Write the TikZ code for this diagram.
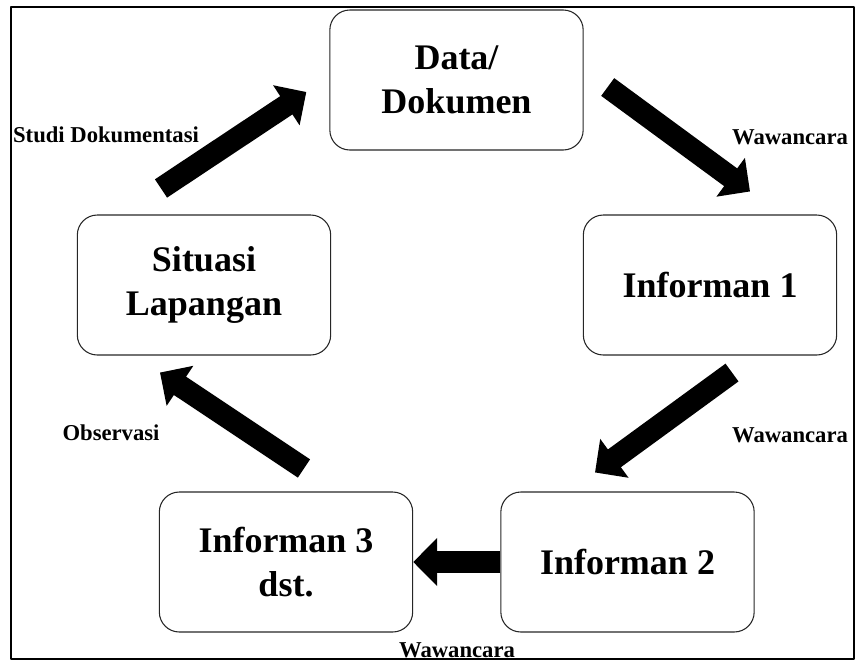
\documentclass[tikz,border=0pt]{standalone}
\usepackage{fontspec}
\setmainfont{Liberation Serif}
\usetikzlibrary{arrows.meta,calc}

\begin{document}
\begin{tikzpicture}[x=0.75pt, y=-0.75pt, line join=round,
  box/.style={draw=black!85, line width=0.8pt, rounded corners=15pt,
    minimum width=190pt, minimum height=105pt, inner sep=0pt, align=center,
    font=\fontsize{27}{33}\selectfont\bfseries},
  lbl/.style={inner sep=0pt, font=\fontsize{17}{20}\selectfont\bfseries},
  fat/.style={line width=16.5pt, -{Triangle[length=18pt,width=35pt]}}]
  \useasboundingbox (0,0) rectangle (855,661);
  % outer frame
  \draw[line width=1.1pt] (11,7) rectangle (854,659);
  % boxes
  \node[box] (data) at (456.5,80)  {Data/\\Dokumen};
  \node[box] (sit)  at (204,285)   {Situasi\\Lapangan};
  \node[box] (inf1) at (710,285)   {Informan 1};
  \node[box] (inf2) at (627.5,562) {Informan 2};
  \node[box] (inf3) at (286,562)   {Informan 3\\dst.};
  % free ends of the slanted arrows
  \coordinate (a1s) at ($(sit.north)+(-43,-26)$);
  \coordinate (a1e) at ($(data.west)+(-23,12)$);
  \coordinate (a2s) at ($(data.east)+(24,7)$);
  \coordinate (a2e) at ($(inf1.north)+(40,-23)$);
  \coordinate (a3s) at ($(inf1.south)+(22,17)$);
  \coordinate (a3e) at ($(inf2.north)+(-32.5,-19)$);
  \coordinate (a5s) at ($(inf3.north)+(18,-23)$);
  \coordinate (a5e) at ($(sit.south)+(-44,17)$);
  % arrows
  \draw[fat] (a1s) -- (a1e);
  \draw[fat] (a2s) -- (a2e);
  \draw[fat] (a3s) -- (a3e);
  \draw[fat] (inf2.west) -- (inf3.east);
  \draw[fat] (a5s) -- (a5e);
  % labels
  \node[lbl] (ldok) at (106,135) {Studi Dokumentasi};
  \node[lbl] (lw1)  at (790,137) {Wawancara};
  \node[lbl] (lw2)  at (790,435) {Wawancara};
  \node[lbl] (lw3)  at (457,650) {Wawancara};
  \node[lbl] (lobs) at (111,433) {Observasi};
\end{tikzpicture}
\end{document}
